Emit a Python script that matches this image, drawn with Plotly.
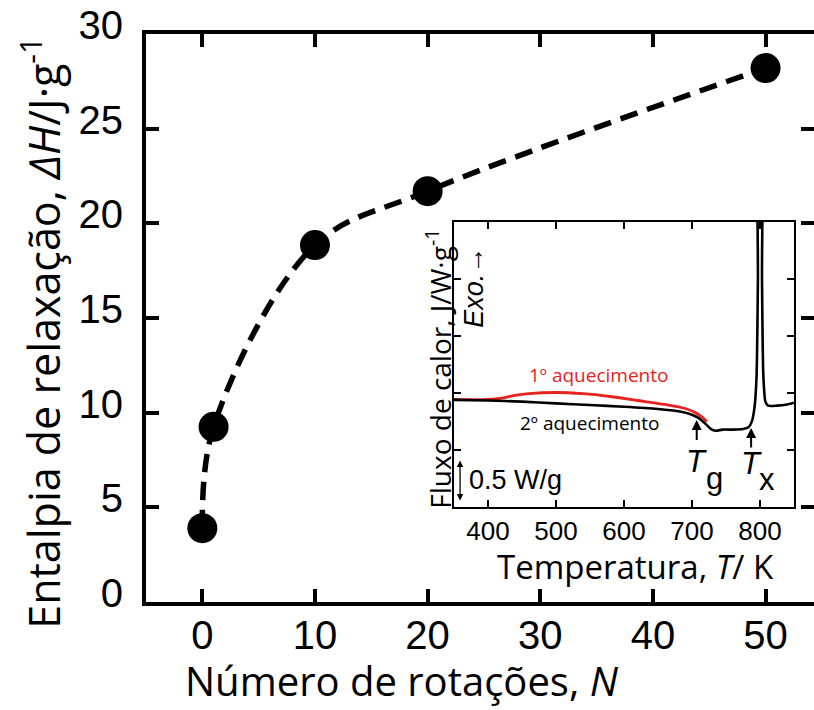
import plotly.graph_objects as go

# Main data
rotations = [0, 1, 10, 20, 50]
enthalpy = [3.9, 9.25, 18.85, 21.7, 28.2]
x_ticks = [0, 10, 20, 30, 40, 50]
y_ticks = [0, 5, 10, 15, 20, 25, 30]

# Inset data (DSC curves, arbitrary units)
temp_2nd = [350, 400, 450, 500, 550, 600, 650, 680, 700, 710, 720, 728, 735, 745, 760, 775, 783, 788,
            792, 795, 797, 798.5, 801.5, 803, 805, 808, 812, 825, 840, 850]
flux_2nd = [1.88, 1.87, 1.85, 1.82, 1.79, 1.76, 1.72, 1.68, 1.62, 1.56, 1.46, 1.37, 1.34, 1.36, 1.36, 1.37, 1.40, 1.50,
            1.75, 2.3, 4.0, 7.0, 7.0, 4.0, 2.3, 1.85, 1.78, 1.78, 1.80, 1.83]
temp_1st = [350, 400, 420, 440, 460, 500, 540, 580, 620, 660, 690, 705, 715, 722]
flux_1st = [1.89, 1.89, 1.91, 1.96, 1.99, 2.01, 1.99, 1.94, 1.87, 1.80, 1.73, 1.66, 1.58, 1.50]
inset_x_ticks = [400, 500, 600, 700, 800]

NUM_FONT = "Liberation Sans, Arial, sans-serif"
TXT_FONT = "Open Sans, Noto Sans, sans-serif"

fig = go.Figure()

fig.add_trace(go.Scatter(
    x=rotations, y=enthalpy, mode="lines+markers",
    line=dict(color="black", width=5.5, dash="18px,10px", shape="spline", smoothing=1.0),
    marker=dict(color="black", size=30),
    xaxis="x", yaxis="y", showlegend=False, hoverinfo="skip"))

fig.add_trace(go.Scatter(
    x=temp_1st, y=flux_1st, mode="lines", line=dict(color="#e8231f", width=2.8, shape="spline"),
    xaxis="x2", yaxis="y2", showlegend=False, hoverinfo="skip"))
fig.add_trace(go.Scatter(
    x=temp_2nd, y=flux_2nd, mode="lines", line=dict(color="black", width=2.6, shape="spline", smoothing=0.6),
    xaxis="x2", yaxis="y2", showlegend=False, hoverinfo="skip"))

# dummy for right-side tick axis
fig.add_trace(go.Scatter(x=[None], y=[None], xaxis="x", yaxis="y3", showlegend=False, hoverinfo="skip"))

fig.update_layout(
    width=814, height=710,
    margin=dict(l=146, r=0, t=34, b=108),
    paper_bgcolor="white", plot_bgcolor="white",
    xaxis=dict(
        domain=[0, 1], range=[-5, 54.3], tickvals=x_ticks, ticktext=[str(v) for v in x_ticks],
        showline=True, linecolor="black", linewidth=4, mirror="ticks",
        ticks="inside", ticklen=13, tickwidth=4, tickcolor="black",
        showgrid=False, zeroline=False, ticklabelstandoff=-5,
        tickfont=dict(family=NUM_FONT, size=40, color="black"),
    ),
    yaxis=dict(
        domain=[0, 1], range=[0, 30], tickvals=y_ticks, ticktext=[str(v) for v in y_ticks],
        showline=True, linecolor="black", linewidth=4, mirror=False,
        ticks="inside", ticklen=13, tickwidth=4, tickcolor="black",
        showgrid=False, zeroline=False, ticklabelshift=-9, ticklabelstandoff=11,
        tickfont=dict(family=NUM_FONT, size=40, color="black"),
    ),
    yaxis3=dict(
        overlaying="y", side="right", anchor="free", position=1.0, range=[0, 30], tickvals=y_ticks,
        showline=False, ticks="inside", ticklen=13, tickwidth=4, tickcolor="black",
        showticklabels=False, showgrid=False, zeroline=False,
    ),
    xaxis2=dict(
        domain=[0.461, 0.970], anchor="y2", range=[350, 850], tickvals=inset_x_ticks,
        showline=True, linecolor="black", linewidth=2, mirror="ticks",
        ticks="inside", ticklen=7, tickwidth=2, tickcolor="black",
        showgrid=False, zeroline=False,
        tickfont=dict(family=NUM_FONT, size=26, color="black"),
    ),
    yaxis2=dict(
        domain=[0.1668, 0.6694], anchor="x2", range=[0, 5], tickvals=[1, 2, 3, 4],
        showline=True, linecolor="black", linewidth=2, mirror="ticks",
        ticks="inside", ticklen=7, tickwidth=2, tickcolor="black",
        showticklabels=False, showgrid=False, zeroline=False,
    ),
)

C = dict(xanchor="center", yanchor="middle", showarrow=False)
ann = []
# axis titles
ann.append(dict(x=0.383, y=-0.139, xref="paper", yref="paper", text="Número de rotações, <i>N</i>",
                font=dict(family=TXT_FONT, size=40, color="black"), **C))
ann.append(dict(x=-0.1557, y=0.474, xref="paper", yref="paper", textangle=-90,
                text="Entalpia de relaxação, <i>∆H</i>/J·g<sup>-1</sup>",
                font=dict(family=TXT_FONT, size=43, color="black"), **C))
ann.append(dict(x=0.7335, y=0.0629, xref="paper", yref="paper", text="Temperatura, <i>T</i>/ K",
                font=dict(family=TXT_FONT, size=33, color="black"), **C))
ann.append(dict(x=0.438, y=0.41, xref="paper", yref="paper", textangle=-90,
                text="Fluxo de calor, J/W·g<sup>-1</sup>",
                font=dict(family=TXT_FONT, size=28, color="black"), **C))
# inset labels
ann.append(dict(x=562, y=2.32, xref="x2", yref="y2", text="1º aquecimento",
                font=dict(family=TXT_FONT, size=19, color="#e8231f"), **C))
ann.append(dict(x=550, y=1.47, xref="x2", yref="y2", text="2º aquecimento",
                font=dict(family=TXT_FONT, size=19, color="black"), **C))
ann.append(dict(x=380, y=3.85, xref="x2", yref="y2", text="<i>Exo.</i>→", textangle=-90,
                font=dict(family=NUM_FONT, size=27, color="black"), **C))
ann.append(dict(x=369, y=0.47, xref="x2", yref="y2", text="0.5 W/g", xanchor="left", yanchor="middle",
                showarrow=False, font=dict(family=NUM_FONT, size=27, color="black")))
# scale bar double arrow
ann.append(dict(x=359, y=0.82, ax=359, ay=0.09, xref="x2", yref="y2", axref="x2", ayref="y2", text="",
                showarrow=True, arrowhead=2, startarrowhead=2, arrowside="end+start", arrowwidth=1.3,
                arrowsize=1, startarrowsize=1, arrowcolor="black"))
# Tg and Tx arrows
ann.append(dict(x=707, y=1.53, ax=707, ay=1.15, xref="x2", yref="y2", axref="x2", ayref="y2", text="",
                showarrow=True, arrowhead=2, arrowwidth=2, arrowsize=1, arrowcolor="black"))
ann.append(dict(x=787, y=1.39, ax=787, ay=1.02, xref="x2", yref="y2", axref="x2", ayref="y2", text="",
                showarrow=True, arrowhead=2, arrowwidth=2, arrowsize=1, arrowcolor="black"))
ann.append(dict(x=707, y=0.80, xref="x2", yref="y2", text="<i>T</i>",
                font=dict(family=NUM_FONT, size=31, color="black"), **C))
ann.append(dict(x=733, y=0.50, xref="x2", yref="y2", text="g",
                font=dict(family=NUM_FONT, size=31, color="black"), **C))
ann.append(dict(x=787, y=0.77, xref="x2", yref="y2", text="<i>T</i>",
                font=dict(family=NUM_FONT, size=31, color="black"), **C))
ann.append(dict(x=811, y=0.48, xref="x2", yref="y2", text="x",
                font=dict(family=NUM_FONT, size=31, color="black"), **C))
fig.update_layout(annotations=ann)

fig.write_html("out.html")
